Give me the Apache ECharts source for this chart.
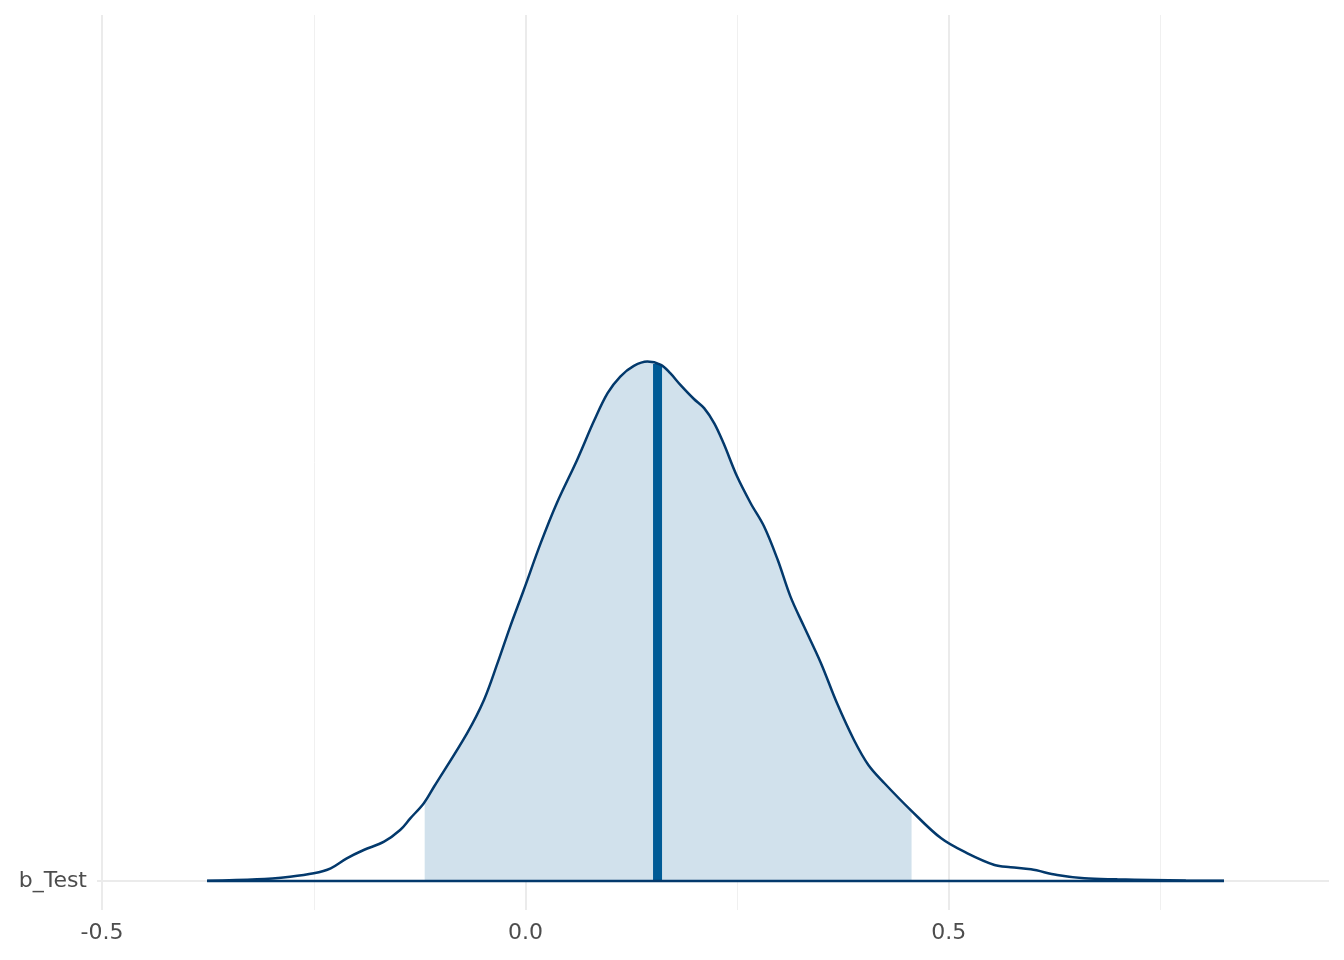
<!DOCTYPE html>
<html>
<head>
<meta charset="utf-8">
<script src="https://cdn.jsdelivr.net/npm/echarts@6/dist/echarts.min.js"></script>
<style>
  html, body { margin: 0; padding: 0; background: #fff; }
  #chart { width: 1344px; height: 960px; }
</style>
</head>
<body>
<div id="chart"></div>
<script>
  // posterior density of b_Test
  const densX = [-0.376, -0.317, -0.278, -0.250, -0.230, -0.211, -0.191, -0.167, -0.148, -0.136,
    -0.120, -0.108, -0.069, -0.049, -0.033, -0.018, -0.002, 0.018, 0.037, 0.061,
    0.081, 0.097, 0.112, 0.128, 0.144, 0.160, 0.171, 0.183, 0.199, 0.211,
    0.223, 0.234, 0.250, 0.266, 0.282, 0.298, 0.313, 0.329, 0.349, 0.368,
    0.388, 0.405, 0.424, 0.455, 0.491, 0.522, 0.554, 0.573, 0.597, 0.628,
    0.660, 0.699, 0.739, 0.780, 0.825]
  const densY = [0.001, 0.008, 0.021, 0.037, 0.061, 0.109, 0.149, 0.189, 0.245, 0.301,
    0.374, 0.453, 0.710, 0.870, 1.047, 1.223, 1.399, 1.624, 1.816, 2.024,
    2.212, 2.345, 2.425, 2.476, 2.497, 2.481, 2.441, 2.385, 2.317, 2.273,
    2.200, 2.104, 1.944, 1.816, 1.703, 1.543, 1.367, 1.223, 1.047, 0.854,
    0.678, 0.558, 0.470, 0.341, 0.205, 0.133, 0.077, 0.066, 0.056, 0.029,
    0.013, 0.008, 0.005, 0.002, 0.001]
  const ciLow = -0.119
  const ciHigh = 0.456
  const median = 0.156
  const paramLabel = 'b_Test'
  const xTicks = [-0.5, 0, 0.5]
  const xMinorTicks = [-0.25, 0.25, 0.75]

  // linear lookup of the density at x
  function densAt(x) {
    for (let i = 1; i < densX.length; i++) {
      if (x <= densX[i]) {
        const t = (x - densX[i - 1]) / (densX[i] - densX[i - 1])
        return densY[i - 1] + t * (densY[i] - densY[i - 1])
      }
    }
    return 0
  }

  const curve = densX.map((x, i) => [x, densY[i]])
  const inner = [[ciLow, densAt(ciLow)]]
  densX.forEach((x, i) => {
    if (x > ciLow && x < ciHigh) inner.push([x, densY[i]])
  })
  inner.push([ciHigh, densAt(ciHigh)])

  const dark = '#03396c'
  const gridCol = '#ebebeb'

  const chart = echarts.init(document.getElementById('chart'))
  chart.setOption({
    animation: false,
    backgroundColor: '#ffffff',
    grid: { left: 97, right: 15, top: 15, bottom: 50 },
    xAxis: {
      type: 'value',
      min: -0.506,
      max: 0.949,
      axisLine: { show: false },
      axisTick: { show: false },
      splitLine: { show: false },
      axisLabel: {
        customValues: xTicks,
        formatter: v => v.toFixed(1),
        color: '#4d4d4d',
        fontSize: 22,
        fontFamily: 'DejaVu Sans',
        margin: 12
      }
    },
    yAxis: {
      type: 'value',
      min: -0.1394,
      max: 4.163,
      axisLine: { show: false },
      axisTick: { show: false },
      splitLine: { show: false },
      axisLabel: {
        customValues: [0],
        formatter: () => paramLabel,
        color: '#4d4d4d',
        fontSize: 22,
        fontFamily: 'DejaVu Sans',
        margin: 10,
        padding: [3, 0, 0, 0]
      }
    },
    series: [
      {
        // grid lines
        type: 'line',
        data: [],
        silent: true,
        markLine: {
          silent: true,
          symbol: 'none',
          z: 1,
          label: { show: false },
          data: [
            ...xTicks.map(v => ({ xAxis: v, lineStyle: { color: gridCol, width: 2, type: 'solid' } })),
            ...xMinorTicks.map(v => ({ xAxis: v, lineStyle: { color: '#f0f0f0', width: 1, type: 'solid' } })),
            { yAxis: 0, lineStyle: { color: gridCol, width: 2, type: 'solid' } }
          ]
        }
      },
      {
        // 90% interval fill
        type: 'line',
        data: inner,
        z: 3,
        smooth: 0.35,
        showSymbol: false,
        silent: true,
        lineStyle: { width: 0 },
        areaStyle: { color: '#d1e1ec', opacity: 1 }
      },
      {
        // median
        type: 'line',
        data: [[median, 0], [median, densAt(median)]],
        z: 4,
        showSymbol: false,
        silent: true,
        lineStyle: { color: '#005b96', width: 9 }
      },
      {
        // baseline under the density
        type: 'line',
        data: [[densX[0], 0], [densX[densX.length - 1], 0]],
        z: 5,
        showSymbol: false,
        silent: true,
        lineStyle: { color: dark, width: 2.5 }
      },
      {
        // density outline
        type: 'line',
        data: curve,
        z: 5,
        smooth: 0.35,
        showSymbol: false,
        silent: true,
        lineStyle: { color: dark, width: 2.5 }
      }
    ]
  })
</script>
</body>
</html>
